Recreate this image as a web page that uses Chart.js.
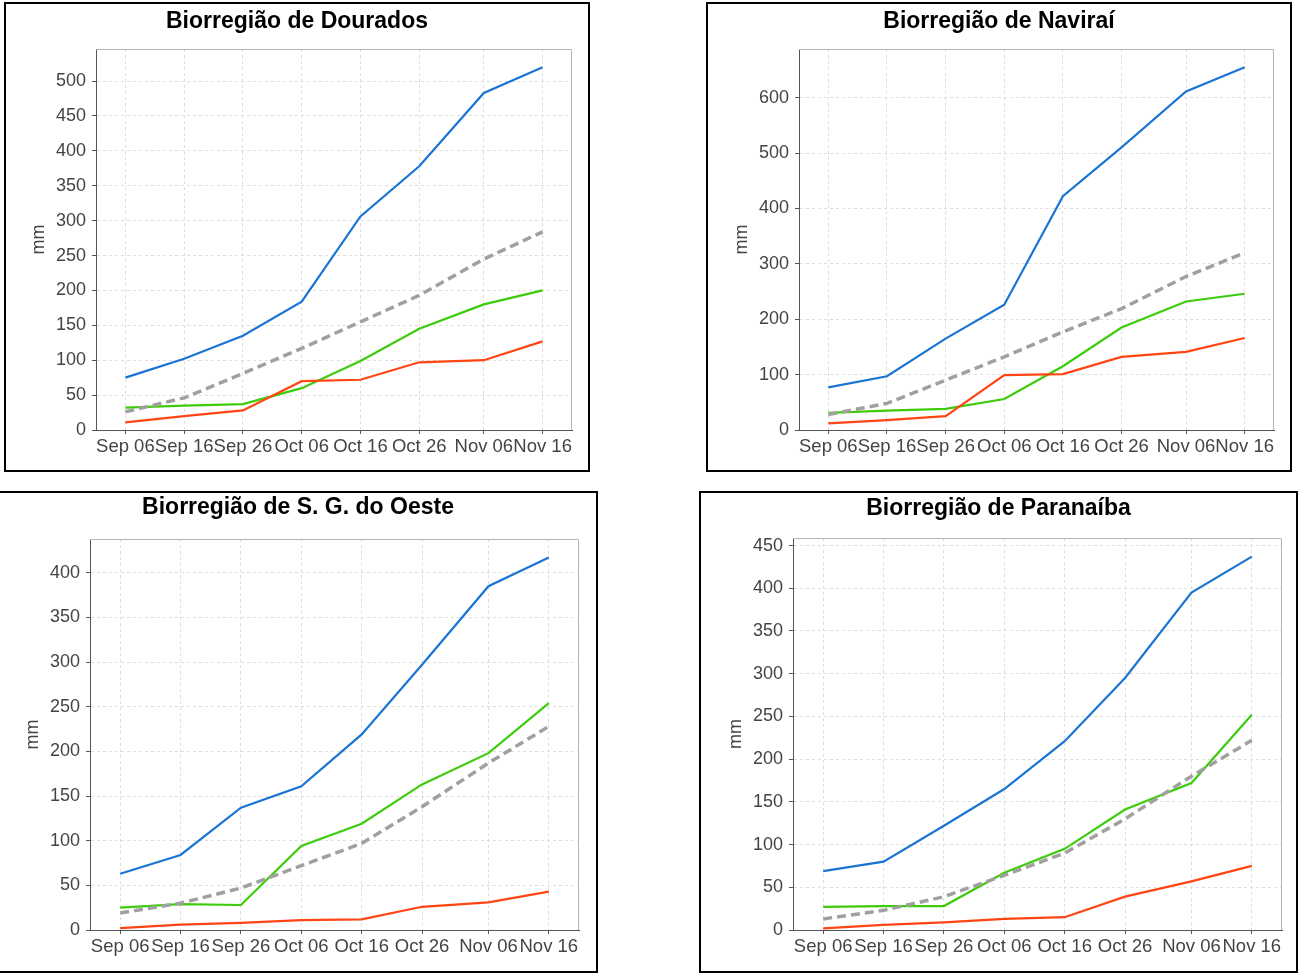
<!DOCTYPE html>
<html>
<head>
<meta charset="utf-8">
<script src="https://cdn.jsdelivr.net/npm/chart.js@4.4.0/dist/chart.umd.min.js"></script>
<style>
body { margin: 0; background: #fff; width: 1299px; height: 973px; position: relative; overflow: hidden; }
.painel { position: absolute; border: 2px solid #000; box-sizing: border-box; background: #fff; }
.painel canvas { display: block; }
</style>
</head>
<body>
<div class="painel" style="left:4px;top:2px;width:586px;height:470px"><canvas id="c1" width="582" height="466"></canvas></div>
<div class="painel" style="left:706px;top:2px;width:586px;height:470px"><canvas id="c2" width="582" height="466"></canvas></div>
<div class="painel" style="left:-2px;top:491px;width:600px;height:482px"><canvas id="c3" width="596" height="478"></canvas></div>
<div class="painel" style="left:699px;top:491px;width:599px;height:482px"><canvas id="c4" width="595" height="478"></canvas></div>
<script>
// datas das leituras (mes-dia) e rotulos do eixo x
var datas = ['09-06', '09-16', '09-26', '10-06', '10-16', '10-26', '11-06', '11-16'];
var rotulos = ['Sep 06', 'Sep 16', 'Sep 26', 'Oct 06', 'Oct 16', 'Oct 26', 'Nov 06', 'Nov 16'];

// chuva acumulada (mm) por biorregiao
var douradosAzul  = [75, 102, 135, 184, 306, 378, 483, 520];
var douradosMedia = [26, 46, 81, 117, 155, 193, 245, 284];
var douradosVerde = [32, 35, 37, 60, 99, 145, 180, 200];
var douradosVerm  = [11, 20, 28, 70, 72, 97, 100, 127];

var naviraiAzul  = [77, 97, 165, 226, 422, 510, 611, 655];
var naviraiMedia = [28, 48, 90, 132, 177, 219, 277, 320];
var naviraiVerde = [31, 35, 38, 56, 115, 185, 232, 246];
var naviraiVerm  = [12, 18, 25, 99, 101, 132, 141, 166];

var sgoAzul  = [63, 84, 137, 161, 219, 297, 385, 417];
var sgoMedia = [19, 30, 47, 72, 97, 138, 187, 228];
var sgoVerde = [25, 29, 28, 94, 119, 163, 198, 254];
var sgoVerm  = [2, 6, 8, 11, 12, 26, 31, 43];

var paranaibaAzul  = [69, 80, 122, 165, 221, 295, 395, 437];
var paranaibaMedia = [13, 23, 39, 64, 90, 130, 180, 222];
var paranaibaVerde = [27, 28, 28, 67, 95, 141, 172, 252];
var paranaibaVerm  = [2, 6, 9, 13, 15, 39, 57, 75];

// dias desde a primeira data
var t0 = Date.UTC(2020, 8, 6);
var dias = datas.map(function (d) {
  var p = d.split('-');
  return Math.round((Date.UTC(2020, +p[0] - 1, +p[1]) - t0) / 86400000);
});

var fonte = '"Liberation Sans", Arial, sans-serif';

// moldura cinza no topo e na direita da area do grafico
var contorno = {
  id: 'contorno',
  beforeDatasetsDraw: function (chart) {
    var ctx = chart.ctx, a = chart.chartArea;
    ctx.save();
    ctx.strokeStyle = '#b4b4b4';
    ctx.lineWidth = 1;
    ctx.beginPath();
    ctx.moveTo(a.left, a.top + 0.5);
    ctx.lineTo(a.right - 0.5, a.top + 0.5);
    ctx.lineTo(a.right - 0.5, a.bottom);
    ctx.stroke();
    ctx.restore();
  }
};

function serie(valores, cor, tracejada) {
  return {
    data: valores.map(function (v, i) { return { x: dias[i], y: v }; }),
    borderColor: cor,
    borderWidth: tracejada ? 3.5 : 2.2,
    borderDash: tracejada ? [9, 5] : [],
    pointRadius: 0,
    fill: false,
    tension: 0
  };
}

function painel(id, titulo, azul, media, verde, verm, passo, g) {
  var topoMax = Math.max.apply(null, azul.concat(media, verde, verm)) * 1.05;
  var alturaTitulo = 23 * 1.2;
  new Chart(document.getElementById(id), {
    type: 'line',
    data: {
      datasets: [
        serie(media, '#a0a0a0', true),
        serie(verm, '#ff4513', false),
        serie(verde, '#3dcc0c', false),
        serie(azul, '#1a74d4', false)
      ]
    },
    options: {
      responsive: false,
      animation: false,
      layout: { padding: 0 },
      plugins: {
        legend: { display: false },
        tooltip: { enabled: false },
        title: {
          display: true,
          text: titulo,
          color: '#000',
          font: { family: fonte, size: 23, weight: 'bold' },
          padding: { top: g.tit, bottom: g.T - g.tit - alturaTitulo }
        }
      },
      scales: {
        x: {
          type: 'linear',
          min: dias[0] - 5,
          max: dias[dias.length - 1] + 5,
          afterBuildTicks: function (s) {
            s.ticks = dias.map(function (v) { return { value: v }; });
          },
          afterFit: function (s) { s.height = g.baixo; },
          ticks: {
            autoSkip: false, minRotation: 0, maxRotation: 0, padding: 2,
            color: '#444', font: { family: fonte, size: 18.5 },
            callback: function (v, i) { return rotulos[i]; }
          },
          grid: { color: '#dedede', tickColor: '#555', tickLength: 4 },
          border: { color: '#555', width: 1, dash: [3, 3] }
        },
        y: {
          min: 0,
          max: topoMax,
          afterFit: function (s) { s.width = g.L; },
          ticks: {
            stepSize: passo, includeBounds: false, padding: 6,
            color: '#444', font: { family: fonte, size: 18 }
          },
          grid: { color: '#dedede', tickColor: '#555', tickLength: 4 },
          border: { color: '#555', width: 1, dash: [3, 3] },
          title: {
            display: true, text: 'mm', color: '#444',
            font: { family: fonte, size: 18 },
            padding: { top: g.L - 68, bottom: 0 }
          }
        },
        // margem direita vazia, para o titulo continuar centrado no painel
        margem: {
          type: 'linear',
          position: 'right',
          display: true,
          ticks: { display: false },
          grid: { display: false, drawTicks: false },
          border: { display: false },
          afterFit: function (s) { s.width = g.dir; }
        }
      }
    },
    plugins: [contorno]
  });
}

painel('c1', 'Biorregião de Dourados', douradosAzul, douradosMedia, douradosVerde, douradosVerm, 50,
  { L: 90, T: 45, dir: 16, baixo: 40, tit: 3.5 });
painel('c2', 'Biorregião de Naviraí', naviraiAzul, naviraiMedia, naviraiVerde, naviraiVerm, 100,
  { L: 91, T: 45, dir: 16, baixo: 40, tit: 3.5 });
painel('c3', 'Biorregião de S. G. do Oeste', sgoAzul, sgoMedia, sgoVerde, sgoVerm, 50,
  { L: 90, T: 46, dir: 17, baixo: 41, tit: 1.2 });
painel('c4', 'Biorregião de Paranaíba', paranaibaAzul, paranaibaMedia, paranaibaVerde, paranaibaVerm, 50,
  { L: 92, T: 45, dir: 14, baixo: 41, tit: 1.9 });
</script>
</body>
</html>
